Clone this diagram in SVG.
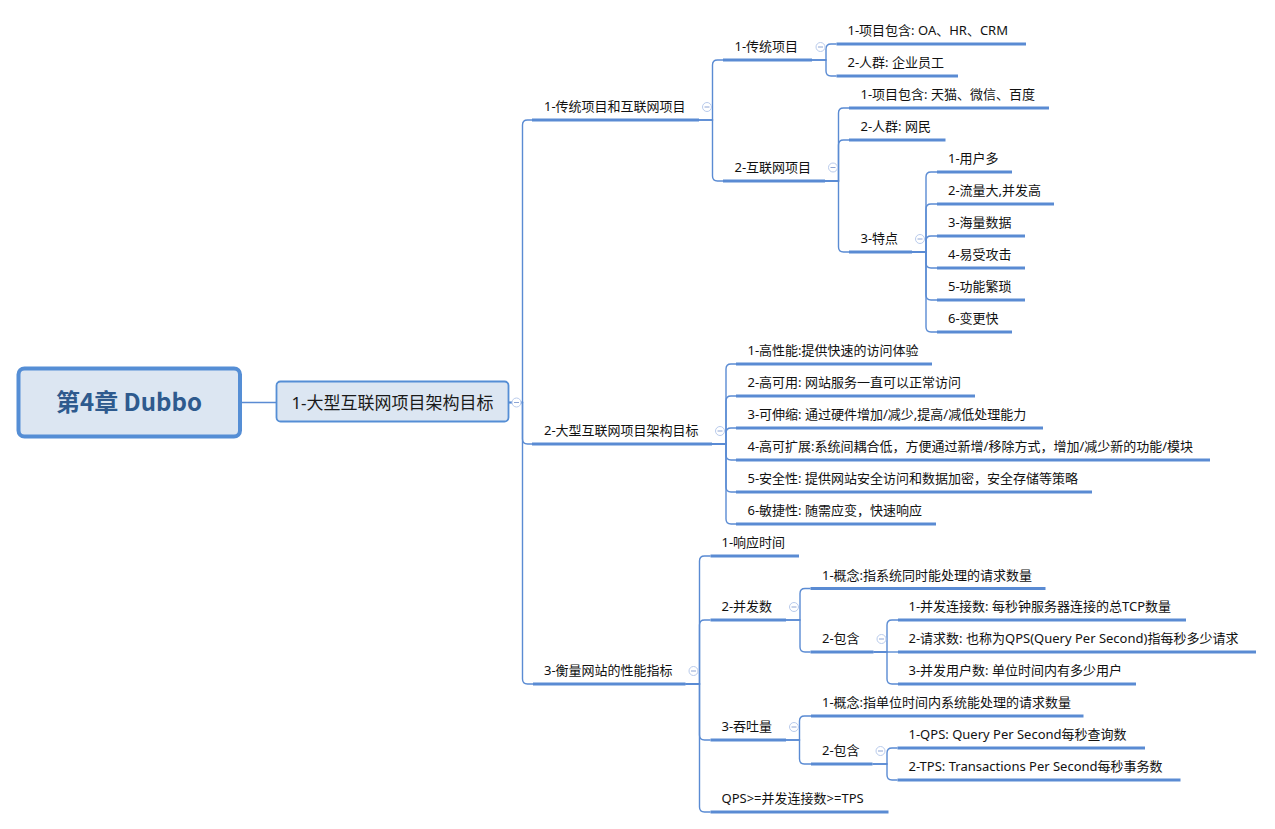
<svg xmlns="http://www.w3.org/2000/svg" width="1275" height="829" viewBox="0 0 1275 829">
<style>
.t{font-family:"Noto Sans","Noto Sans CJK SC",sans-serif;font-size:13px;fill:#111}
.ul{stroke:#5A8BD3;stroke-width:3;fill:none}
.c{stroke:#5A8BD3;stroke-width:1.4;fill:none}
</style>
<defs>
<g id="tog"><circle cx="0" cy="0" r="4.5" fill="#fff" stroke="#B9CBEC" stroke-width="1"/><line x1="-2.5" y1="0" x2="2.5" y2="0" stroke="#8EA5D4" stroke-width="1"/></g>
</defs>
<rect width="1275" height="829" fill="#fff"/>
<g id="connectors" class="c">
<path d="M242,402.5 H276"/>
<path d="M509,402.5 H522.5 V125 Q522.5,120 527.5,120 H532"/>
<path d="M509,402.5 H522.5 V439 Q522.5,444 527.5,444 H532"/>
<path d="M509,402.5 H522.5 V679 Q522.5,684 527.5,684 H533"/>
<path d="M699,120 H712.5 V65 Q712.5,60 717.5,60 H723"/>
<path d="M699,120 H712.5 V176 Q712.5,181 717.5,181 H723"/>
<path d="M812,60 H826 V49 Q826,44 831,44 H836.5"/>
<path d="M812,60 H826 V71 Q826,76 831,76 H836.5"/>
<path d="M825,181 H838.5 V113 Q838.5,108 843.5,108 H849"/>
<path d="M825,181 H838.5 V145 Q838.5,140 843.5,140 H849"/>
<path d="M825,181 H838.5 V247 Q838.5,252 843.5,252 H849"/>
<path d="M912,252 H926 V177 Q926,172 931,172 H937"/>
<path d="M912,252 H926 V209 Q926,204 931,204 H937"/>
<path d="M912,252 H926 V241 Q926,236 931,236 H937"/>
<path d="M912,252 H926 V263 Q926,268 931,268 H937"/>
<path d="M912,252 H926 V295 Q926,300 931,300 H937"/>
<path d="M912,252 H926 V327 Q926,332 931,332 H937"/>
<path d="M712,444 H726 V369 Q726,364 731,364 H736"/>
<path d="M712,444 H726 V401 Q726,396 731,396 H736"/>
<path d="M712,444 H726 V433 Q726,428 731,428 H736"/>
<path d="M712,444 H726 V455 Q726,460 731,460 H736"/>
<path d="M712,444 H726 V487 Q726,492 731,492 H736"/>
<path d="M712,444 H726 V519 Q726,524 731,524 H736"/>
<path d="M685.5,684 H699.5 V561 Q699.5,556 704.5,556 H710.5"/>
<path d="M685.5,684 H699.5 V625 Q699.5,620 704.5,620 H710.5"/>
<path d="M685.5,684 H699.5 V735 Q699.5,740 704.5,740 H710.5"/>
<path d="M685.5,684 H699.5 V807 Q699.5,812 704.5,812 H710.5"/>
<path d="M786,620 H800 V593.5 Q800,588.5 805,588.5 H810.5"/>
<path d="M786,620 H800 V647 Q800,652 805,652 H810.5"/>
<path d="M873.5,652 H887 V625 Q887,620 892,620 H898"/>
<path d="M873.5,652 H898"/>
<path d="M873.5,652 H887 V679 Q887,684 892,684 H898"/>
<path d="M786,740 H799.5 V721 Q799.5,716 804.5,716 H811"/>
<path d="M786,740 H799.5 V759 Q799.5,764 804.5,764 H811"/>
<path d="M872.5,764 H887 V753 Q887,748 892,748 H897.5"/>
<path d="M872.5,764 H887 V775 Q887,780 892,780 H897.5"/>
</g>
<g id="root">
<rect x="18.5" y="368.5" width="221.5" height="68" rx="6" fill="#DCE6F2" stroke="#558ED5" stroke-width="4"/>
<text x="129" y="411" text-anchor="middle" font-family="Noto Sans CJK SC,Liberation Sans,sans-serif" font-size="24" font-weight="bold" fill="#2E5A8E">第4章 Dubbo</text>
</g>
<g id="n-main">
<rect x="276.5" y="381.5" width="232" height="40" rx="4" fill="#DCE6F2" stroke="#558ED5" stroke-width="1.8"/>
<text x="392.5" y="409" text-anchor="middle" font-family="Noto Sans,Noto Sans CJK SC,sans-serif" font-size="17" fill="#1A1A1A">1-大型互联网项目架构目标</text>
<use href="#tog" x="516.5" y="402.5"/>
</g>
<g id="n-a">
<text class="t" x="544" y="111">1-传统项目和互联网项目</text>
<line class="ul" x1="532" y1="120" x2="699" y2="120"/>
<use href="#tog" x="707" y="107"/>
</g>
<g id="n-a1">
<text class="t" x="734.5" y="51">1-传统项目</text>
<line class="ul" x1="723" y1="60" x2="812" y2="60"/>
<use href="#tog" x="820.5" y="47"/>
</g>
<g id="n-a1-1">
<text class="t" x="847.5" y="35">1-项目包含: OA、HR、CRM</text>
<line class="ul" x1="836.5" y1="44" x2="1026" y2="44"/>
</g>
<g id="n-a1-2">
<text class="t" x="847.5" y="67">2-人群: 企业员工</text>
<line class="ul" x1="836.5" y1="76" x2="958" y2="76"/>
</g>
<g id="n-a2">
<text class="t" x="734.5" y="172">2-互联网项目</text>
<line class="ul" x1="723" y1="181" x2="825" y2="181"/>
<use href="#tog" x="833" y="167.5"/>
</g>
<g id="n-a2-1">
<text class="t" x="860.5" y="99">1-项目包含: 天猫、微信、百度</text>
<line class="ul" x1="849" y1="108" x2="1049" y2="108"/>
</g>
<g id="n-a2-2">
<text class="t" x="860.5" y="131">2-人群: 网民</text>
<line class="ul" x1="849" y1="140" x2="945.5" y2="140"/>
</g>
<g id="n-a2-3">
<text class="t" x="860.5" y="243">3-特点</text>
<line class="ul" x1="849" y1="252" x2="912" y2="252"/>
<use href="#tog" x="920" y="239"/>
</g>
<g id="n-f1"><text class="t" x="948" y="163">1-用户多</text><line class="ul" x1="937" y1="172" x2="1012" y2="172"/></g>
<g id="n-f2"><text class="t" x="948" y="195">2-流量大,并发高</text><line class="ul" x1="937" y1="204" x2="1054" y2="204"/></g>
<g id="n-f3"><text class="t" x="948" y="227">3-海量数据</text><line class="ul" x1="937" y1="236" x2="1025" y2="236"/></g>
<g id="n-f4"><text class="t" x="948" y="259">4-易受攻击</text><line class="ul" x1="937" y1="268" x2="1025" y2="268"/></g>
<g id="n-f5"><text class="t" x="948" y="291">5-功能繁琐</text><line class="ul" x1="937" y1="300" x2="1025" y2="300"/></g>
<g id="n-f6"><text class="t" x="948" y="323">6-变更快</text><line class="ul" x1="937" y1="332" x2="1012" y2="332"/></g>
<g id="n-b">
<text class="t" x="544" y="435">2-大型互联网项目架构目标</text>
<line class="ul" x1="532" y1="444" x2="712" y2="444"/>
<use href="#tog" x="720" y="431"/>
</g>
<g id="n-b1"><text class="t" x="747.5" y="355">1-高性能:提供快速的访问体验</text><line class="ul" x1="736" y1="364" x2="932" y2="364"/></g>
<g id="n-b2"><text class="t" x="747.5" y="387">2-高可用: 网站服务一直可以正常访问</text><line class="ul" x1="736" y1="396" x2="975" y2="396"/></g>
<g id="n-b3"><text class="t" x="747.5" y="419">3-可伸缩: 通过硬件增加/减少,提高/减低处理能力</text><line class="ul" x1="736" y1="428" x2="1043" y2="428"/></g>
<g id="n-b4"><text class="t" x="747.5" y="451">4-高可扩展:系统间耦合低，方便通过新增/移除方式，增加/减少新的功能/模块</text><line class="ul" x1="736" y1="460" x2="1210" y2="460"/></g>
<g id="n-b5"><text class="t" x="747.5" y="483">5-安全性: 提供网站安全访问和数据加密，安全存储等策略</text><line class="ul" x1="736" y1="492" x2="1092" y2="492"/></g>
<g id="n-b6"><text class="t" x="747.5" y="515">6-敏捷性: 随需应变，快速响应</text><line class="ul" x1="736" y1="524" x2="936" y2="524"/></g>
<g id="n-c">
<text class="t" x="544" y="675">3-衡量网站的性能指标</text>
<line class="ul" x1="533" y1="684" x2="685.5" y2="684"/>
<use href="#tog" x="693.5" y="671"/>
</g>
<g id="n-c1"><text class="t" x="721.5" y="547">1-响应时间</text><line class="ul" x1="710.5" y1="556" x2="799" y2="556"/></g>
<g id="n-c2">
<text class="t" x="721.5" y="611">2-并发数</text>
<line class="ul" x1="710.5" y1="620" x2="786" y2="620"/>
<use href="#tog" x="794" y="607"/>
</g>
<g id="n-c2-1"><text class="t" x="822" y="579.5">1-概念:指系统同时能处理的请求数量</text><line class="ul" x1="810.5" y1="588.5" x2="1045.5" y2="588.5"/></g>
<g id="n-c2-2">
<text class="t" x="822" y="643">2-包含</text>
<line class="ul" x1="810.5" y1="652" x2="873.5" y2="652"/>
<use href="#tog" x="881.5" y="639"/>
</g>
<g id="n-c2-2-1"><text class="t" x="908.5" y="611">1-并发连接数: 每秒钟服务器连接的总TCP数量</text><line class="ul" x1="898" y1="620" x2="1186" y2="620"/></g>
<g id="n-c2-2-2"><text class="t" x="908.5" y="643">2-请求数: 也称为QPS(Query Per Second)指每秒多少请求</text><line class="ul" x1="898" y1="652" x2="1256" y2="652"/></g>
<g id="n-c2-2-3"><text class="t" x="908.5" y="675">3-并发用户数: 单位时间内有多少用户</text><line class="ul" x1="898" y1="684" x2="1136" y2="684"/></g>
<g id="n-c3">
<text class="t" x="721.5" y="731">3-吞吐量</text>
<line class="ul" x1="710.5" y1="740" x2="786" y2="740"/>
<use href="#tog" x="794" y="727"/>
</g>
<g id="n-c3-1"><text class="t" x="822" y="707">1-概念:指单位时间内系统能处理的请求数量</text><line class="ul" x1="811" y1="716" x2="1083.5" y2="716"/></g>
<g id="n-c3-2">
<text class="t" x="822" y="755">2-包含</text>
<line class="ul" x1="811" y1="764" x2="872.5" y2="764"/>
<use href="#tog" x="880.5" y="751"/>
</g>
<g id="n-c3-2-1"><text class="t" x="908.5" y="739">1-QPS: Query Per Second每秒查询数</text><line class="ul" x1="897.5" y1="748" x2="1145" y2="748"/></g>
<g id="n-c3-2-2"><text class="t" x="908.5" y="771">2-TPS: Transactions Per Second每秒事务数</text><line class="ul" x1="897.5" y1="780" x2="1180.5" y2="780"/></g>
<g id="n-c4"><text class="t" x="721.5" y="803">QPS&gt;=并发连接数&gt;=TPS</text><line class="ul" x1="710.5" y1="812" x2="888.5" y2="812"/></g>
</svg>
